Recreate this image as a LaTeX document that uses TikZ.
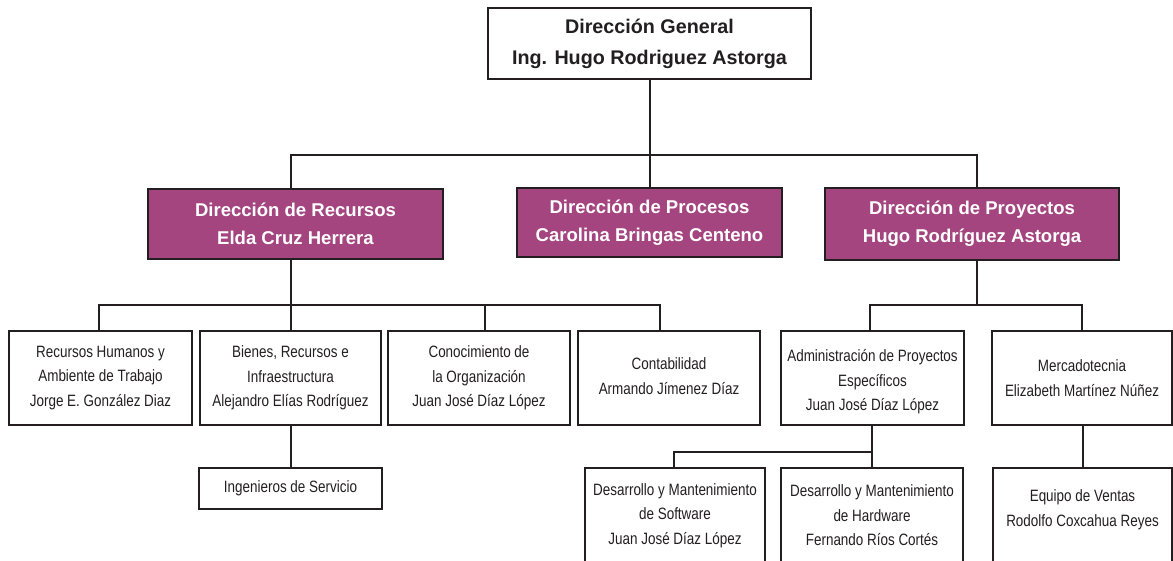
\documentclass[tikz,border=0pt]{standalone}
\usepackage{fontspec}
\setmainfont{Liberation Sans}
\newfontfamily\narrowf[FakeStretch=0.82]{Liberation Sans}
\definecolor{ink}{HTML}{231F20}
\definecolor{plum}{RGB}{164,69,128}
\tikzset{
  box/.style={draw=ink, line width=1.5pt, fill=white, inner sep=0pt, align=center, text=ink},
  topbox/.style={box, font=\fontsize{14.8}{23.25}\selectfont\bfseries, minimum width=242.25pt, minimum height=53.25pt},
  dirbox/.style={box, fill=plum, text=white, font=\fontsize{13.9}{21}\selectfont\bfseries},
  unitbox/.style={box, font=\narrowf\fontsize{12.3}{18.4}\selectfont, minimum height=70.5pt},
  lowbox/.style={box, minimum height=84pt},
  lbl/.style={inner sep=0pt, align=center, text=ink, font=\narrowf\fontsize{12.3}{18.4}\selectfont},
  conn/.style={draw=ink, line width=1.5pt}
}
\begin{document}
\begin{tikzpicture}[x=0.75pt,y=-0.75pt]
\useasboundingbox (0,0) rectangle (1173,560);
\clip (0,0) rectangle (1173,560);
\fill[white] (0,0) rectangle (1173,560);

% top
\node[topbox] (top) at (649.5,43.5) {Dirección General\\Ing. Hugo Rodriguez Astorga};

% directions
\node[dirbox, minimum width=221.25pt, minimum height=52.5pt] (recursos) at (295.5,224) {Dirección de Recursos\\Elda Cruz Herrera};
\node[dirbox, minimum width=198.75pt, minimum height=51.75pt] (procesos) at (649.5,222.5) {Dirección de Procesos\\Carolina Bringas Centeno};
\node[dirbox, minimum width=220.5pt, minimum height=54pt] (proyectos) at (972,224) {Dirección de Proyectos\\Hugo Rodríguez Astorga};

% units
\node[unitbox, minimum width=137.25pt] (b1) at (100.5,378) {Recursos Humanos y\\Ambiente de Trabajo\\Jorge E. González Diaz};
\node[unitbox, minimum width=135.75pt] (b2) at (290.5,378) {Bienes, Recursos e\\Infraestructura\\Alejandro Elías Rodríguez};
\node[unitbox, minimum width=136.5pt] (b3) at (479,378) {Conocimiento de\\la Organización\\Juan José Díaz López};
\node[unitbox, minimum width=136.5pt] (b4) at (669,378) {};
\node[lbl] (b4t) at (669,376) {Contabilidad\\Armando Jímenez Díaz};
\node[unitbox, minimum width=137.25pt] (b5) at (872.5,378) {};
\node[lbl] (b5t) at (872.5,382) {Administración de Proyectos\\Específicos\\Juan José Díaz López};
\node[unitbox, minimum width=135pt] (b6) at (1082,378) {Mercadotecnia\\Elizabeth Martínez Núñez};

% lower
\node[unitbox, minimum width=137.25pt, minimum height=30.75pt] (ing) at (290.5,488.5) {Ingenieros de Servicio};
\node[lowbox, minimum width=135pt] (sw) at (675,524) {};
\node[lbl] (swt) at (675,515.5) {Desarrollo y Mantenimiento\\de Software\\Juan José Díaz López};
\node[lowbox, minimum width=136.5pt] (hw) at (872,524) {};
\node[lbl] (hwt) at (872,515.5) {Desarrollo y Mantenimiento\\de Hardware\\Fernando Ríos Cortés};
\node[lowbox, minimum width=134.25pt] (eq) at (1082.5,524) {};
\node[lbl] (eqt) at (1082.5,509.5) {Equipo de Ventas\\Rodolfo Coxcahua Reyes};

% joints
\coordinate (jL) at (291,155);
\coordinate (jR) at (977,155);
\coordinate (d1) at (99,305);
\coordinate (d3) at (485,305);
\coordinate (d4) at (660,305);
\coordinate (d5) at (870,305);
\coordinate (d6) at (1082,305);
\coordinate (d7) at (674,452);

% connectors
\draw[conn] (top.south) -- (procesos.north);
\draw[conn] (recursos.north -| jL) -- (jL) -- (jR) -- (proyectos.north -| jR);
\draw[conn] (recursos.south -| b2.north) -- (b2.north);
\draw[conn] (b1.north -| d1) -- (d1) -- (d4) -- (b4.north -| d4);
\draw[conn] (d3) -- (b3.north -| d3);
\draw[conn] (proyectos.south -| jR) -- (jR |- d5);
\draw[conn] (b5.north -| d5) -- (d5) -- (d6) -- (b6.north -| d6);
\draw[conn] (b2.south) -- (ing.north);
\draw[conn] (b5.south -| hw.north) -- (hw.north);
\draw[conn] (sw.north -| d7) -- (d7) -- (d7 -| hw.north);
\draw[conn] (b6.south -| eq.north) -- (eq.north);
\end{tikzpicture}
\end{document}
